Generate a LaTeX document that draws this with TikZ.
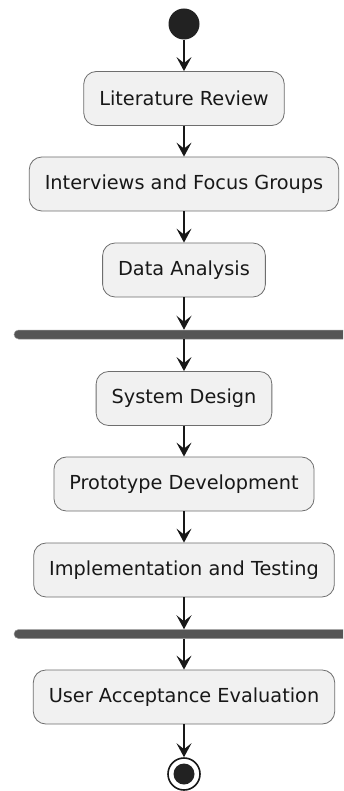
\documentclass[tikz,border=0pt]{standalone}
\usepackage{fontspec}
\setmainfont{DejaVu Sans}
\usetikzlibrary{arrows.meta}
\definecolor{boxfill}{HTML}{F1F1F1}
\definecolor{boxline}{HTML}{6E6E6E}
\definecolor{ink}{HTML}{181818}
\definecolor{barfill}{HTML}{555555}
\definecolor{dotfill}{HTML}{222222}
\begin{document}
\begin{tikzpicture}[x=1pt,y=-1pt,
  act/.style={draw=boxline, line width=0.8pt, fill=boxfill, rounded corners=12.5pt,
    minimum height=54pt, inner xsep=15.5pt, inner ysep=0pt,
    font=\fontsize{19.3}{22}\selectfont, text=ink},
  bar/.style={fill=barfill, draw=barfill!60, line width=0.5pt, rounded corners=4.5pt,
    minimum width=340pt, minimum height=9pt, inner sep=0pt},
  flow/.style={draw=ink, line width=1.5pt,
    -{Stealth[length=14pt,width=15pt,inset=6pt]}}]
\clip (0,0) rectangle (343,791);
\fill[white] (0,0) rectangle (343,791);
\node[circle, fill=dotfill, minimum size=31pt, inner sep=0pt] (start) at (184,24) {};
\node[act] (lit) at (184,98.5) {Literature Review};
\node[act] (int) at (184,184) {Interviews and Focus Groups};
\node[act] (data) at (184,270) {Data Analysis};
\node[bar] (bar1) at (184,334.5) {};
\node[act] (sys) at (184,398.5) {System Design};
\node[act] (proto) at (184,484) {Prototype Development};
\node[act] (impl) at (184,570) {Implementation and Testing};
\node[bar] (bar2) at (184,634) {};
\node[act] (uae) at (184,697) {User Acceptance Evaluation};
\node[circle, draw=ink, line width=1.6pt, fill=white, minimum size=32pt, inner sep=0pt] (end) at (184,774) {};
\fill[dotfill] (end.center) circle (10.5pt);
\draw[flow] (start) -- (lit);
\draw[flow] (lit) -- (int);
\draw[flow] (int) -- (data);
\draw[flow] (data) -- (bar1);
\draw[flow] (bar1) -- (sys);
\draw[flow] (sys) -- (proto);
\draw[flow] (proto) -- (impl);
\draw[flow] (impl) -- (bar2);
\draw[flow] (bar2) -- (uae);
\draw[flow] (uae) -- (end);
\end{tikzpicture}
\end{document}
